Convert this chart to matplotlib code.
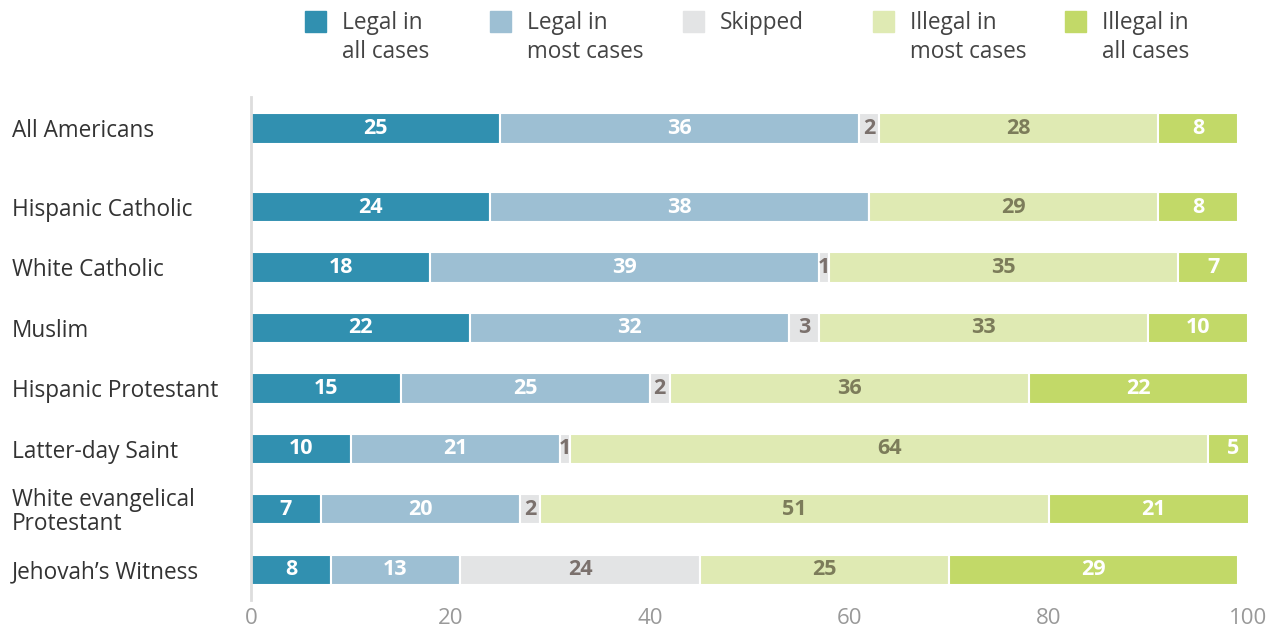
import matplotlib.pyplot as plt
from matplotlib.patches import Rectangle

GROUPS = ['All Americans', 'Hispanic Catholic', 'White Catholic', 'Muslim',
          'Hispanic Protestant', 'Latter-day Saint',
          'White evangelical\nProtestant', "Jehovah’s Witness"]
LEGAL_ALL = [25, 24, 18, 22, 15, 10, 7, 8]
LEGAL_MOST = [36, 38, 39, 32, 25, 21, 20, 13]
SKIPPED = [2, 0, 1, 3, 2, 1, 2, 24]
ILLEGAL_MOST = [28, 29, 35, 33, 36, 64, 51, 25]
ILLEGAL_ALL = [8, 8, 7, 10, 22, 5, 21, 29]

SERIES = [LEGAL_ALL, LEGAL_MOST, SKIPPED, ILLEGAL_MOST, ILLEGAL_ALL]
LABELS = ['Legal in\nall cases', 'Legal in\nmost cases', 'Skipped',
          'Illegal in\nmost cases', 'Illegal in\nall cases']
COLORS = ['#3190b0', '#9dbfd3', '#e3e4e5', '#dfeab3', '#c2d968']
TEXT_COLORS = ['white', 'white', '#7b716d', '#7c7c5a', 'white']

plt.rcParams['font.family'] = ['Open Sans', 'DejaVu Sans']

fig = plt.figure(figsize=(12.7, 6.27), dpi=100)
ax = fig.add_axes([251 / 1270, 1 - 600 / 627, 997 / 1270, 503 / 627])

ypos = [0] + [1.3 + i for i in range(len(GROUPS) - 1)]
left = [0] * len(GROUPS)
for vals, color, tcol in zip(SERIES, COLORS, TEXT_COLORS):
    ax.barh(ypos, vals, left=left, height=0.5, color=color,
            edgecolor='white', linewidth=1.5)
    for y, v, l in zip(ypos, vals, left):
        if v > 0:
            ax.text(l + v / 2, y, str(v), ha='center', va='center',
                    color=tcol, fontsize=15.5, fontweight='bold')
    left = [l + v for l, v in zip(left, vals)]

ax.set_xlim(0, 100)
ax.set_ylim(7.8, -0.52)
ax.set_xticks(range(0, 101, 20))
ax.tick_params(axis='x', length=0, labelsize=16, labelcolor='#999999', pad=6)
ax.set_yticks(ypos)
ax.set_yticklabels(GROUPS, ha='left', fontsize=16.3, color='#333333',
                   linespacing=1.0)
ax.tick_params(axis='y', length=0, pad=172)
for s in ['top', 'right', 'bottom']:
    ax.spines[s].set_visible(False)
ax.spines['left'].set_color('#dddddd')
ax.spines['left'].set_linewidth(2)

# legend across the top
leg_x = [305, 490, 683, 873, 1065]
for x, lab, color in zip(leg_x, LABELS, COLORS):
    fig.patches.append(Rectangle((x / 1270, 1 - 32 / 627), 21 / 1270, 21 / 627,
                                 transform=fig.transFigure, color=color))
    fig.text((x + 37) / 1270, 1 - 11 / 627, lab, ha='left', va='top',
             fontsize=16.3, color='#444444', linespacing=1.3)

fig.savefig('out.png', dpi=100)
